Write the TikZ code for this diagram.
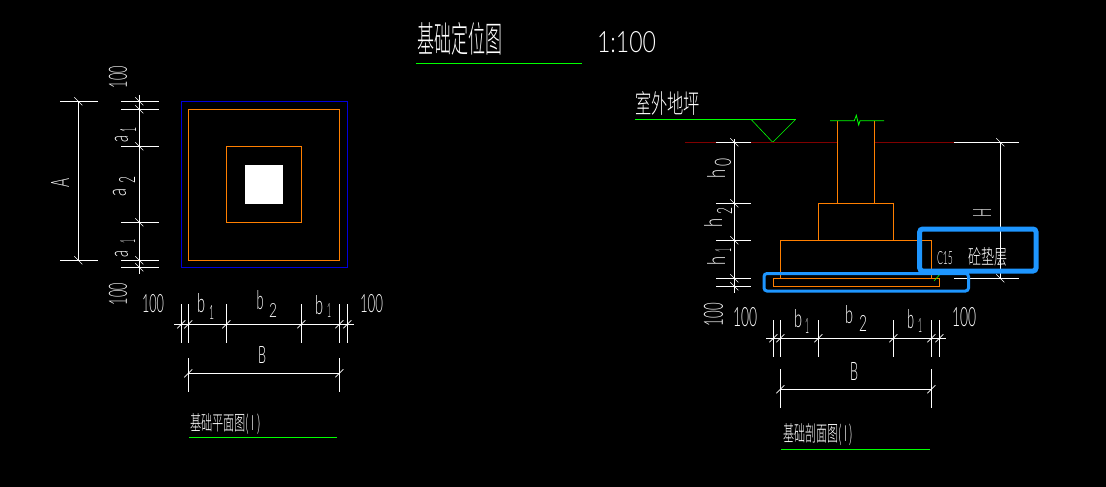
\documentclass[tikz,border=0pt]{standalone}
\usepackage{fontspec}
\setmainfont{Lato Light}
\newfontfamily\cjk{Noto Sans CJK SC Light}
\newcommand\lbl[6]{\node[lab] (#1) at (#2,#3) {\resizebox{#4pt}{#5pt}{#6}};}
\newcommand\lblr[6]{\node[lab,rotate=90] (#1) at (#2,#3) {\resizebox{#5pt}{#4pt}{#6}};}
\newcommand\htick[2]{\draw[tick] (#1-4,#2+4) -- (#1+4,#2-4);}
\newcommand\vtick[2]{\draw[tick] (#1-4,#2-4) -- (#1+4,#2+4);}
\tikzset{
  lab/.style={inner sep=0pt,outer sep=0pt,text=white},
  dimline/.style={draw=white,line width=0.8pt},
  tick/.style={draw=white,line width=0.6pt},
  ora/.style={draw=cadorange,line width=0.9pt},
  grn/.style={draw=cadgreen,line width=0.8pt},
  hl/.style={draw=hiblue,rounded corners=3pt}
}
\definecolor{cadorange}{RGB}{255,127,0}
\definecolor{cadgreen}{RGB}{0,255,0}
\definecolor{cadblue}{RGB}{0,0,220}
\definecolor{caddred}{RGB}{128,0,0}
\definecolor{hiblue}{RGB}{30,150,255}
\begin{document}
\begin{tikzpicture}[x=1pt,y=-1pt]
\fill[black] (0,0) rectangle (1106,487);
\useasboundingbox (0,0) rectangle (1106,487);
% title
\lbl{t1}{459.5}{39}{85}{30}{\cjk 基础定位图}
\lbl{t2}{626.5}{42.5}{59}{21}{1:100}
\draw[grn] (416,63.3) -- (581.7,63.3);
% ---- plan ----
\draw[draw=cadblue,line width=0.9pt] (181.3,101.3) rectangle (347.3,267.3);
\draw[ora] (188.3,109.3) rectangle (339.3,260.3);
\draw[ora] (226.3,146.3) rectangle (301.7,222.3);
\fill[white] (245,165) rectangle (283,204);
% A dim
\draw[dimline] (78.3,101.3) -- (78.3,260.3);
\foreach \y in {101.3,260.3} {\draw[dimline] (60,\y) -- (97.7,\y); \vtick{78.3}{\y}}
\lblr{A}{60}{182.5}{18}{9}{A}
% a dims
\draw[dimline] (139.3,95) -- (139.3,274.3);
\foreach \y in {101.3,109.3,146.3,222.3,260.3,267.3} {\draw[dimline] (121,\y) -- (158.7,\y); \vtick{139.3}{\y}}
\lblr{pt}{118}{77}{18}{22}{100}
\lblr{pb}{118}{294}{18}{22}{100}
\lblr{a1a}{121.5}{138.5}{13}{7}{a}
\lblr{a1b}{128}{129.5}{16}{5}{1}
\lblr{a2a}{119.5}{192}{13}{8}{a}
\lblr{a2b}{127}{179.5}{16}{7}{2}
\lblr{a3a}{121.5}{253.5}{13}{7}{a}
\lblr{a3b}{127.5}{241}{15}{4}{1}
% b dims
\draw[dimline] (174,324.3) -- (354,324.3);
\foreach \x in {181.3,188.3,226.3,301.3,339.3,347.3} {\draw[dimline] (\x,304) -- (\x,342.7); \htick{\x}{324.3}}
\lbl{pl}{153}{304}{22}{18}{100}
\lbl{pr}{371.5}{304}{23}{18}{100}
\lbl{b1a}{201}{303.5}{8}{19}{b}
\lbl{b1b}{211.5}{312}{5}{14}{1}
\lbl{b2a}{260}{300.5}{7}{19}{b}
\lbl{b2b}{273}{310}{8}{14}{2}
\lbl{b3a}{319}{305.5}{8}{19}{b}
\lbl{b3b}{329}{310}{4}{14}{1}
\draw[dimline] (188.3,373.3) -- (339.3,373.3);
\foreach \x in {188.3,339.3} {\draw[dimline] (\x,358) -- (\x,391.7); \htick{\x}{373.3}}
\lbl{B1}{262}{354.5}{8}{17}{B}
\lbl{c1}{225.5}{423.5}{71}{17}{\cjk 基础平面图( I )}
\draw[grn] (189,437.3) -- (337,437.3);
% ---- section ----
\lbl{g1}{667.5}{103}{65}{22}{\cjk 室外地坪}
\draw[grn] (635,119.3) -- (795.7,119.3);
\draw[draw=cadgreen,line width=0.6pt] (751,119.3) -- (772.7,142.3) -- (795.7,119.3);
\draw[draw=caddred,line width=0.9pt] (685,142.3) -- (837.3,142.3);
\draw[draw=caddred,line width=0.9pt] (874.3,142.3) -- (954,142.3);
% ground ext lines
\draw[dimline] (716,142.3) -- (751,142.3);
\draw[dimline] (954,142.3) -- (1019,142.3);
% column
\draw[ora] (837.3,120.7) -- (837.3,203.3);
\draw[ora] (874.3,120.7) -- (874.3,203.3);
\draw[grn] (830,120.7) -- (854.3,120.7) -- (856.3,115.3) -- (858.7,125) -- (860,120.7) -- (884,120.7);
\draw[ora] (818.3,203.3) rectangle (893.7,240.3);
\draw[ora] (780.3,240.3) -- (780.3,278.3);
\draw[ora] (931.7,240.3) -- (931.7,278.3);
\draw[ora] (780.3,240.3) -- (931.7,240.3);
\draw[ora] (773.3,278.3) rectangle (939.7,286.3);
% left dims
\draw[dimline] (734.3,139) -- (734.3,292.7);
\foreach \y in {142.3,203.3,240.3,278.3,286.3} {\vtick{734.3}{\y}}
\foreach \y in {203.3,240.3,278.3,286.3} {\draw[dimline] (716,\y) -- (751,\y);}
\lblr{h0a}{716}{174}{18}{9}{h}
\lblr{h0b}{723}{162}{16}{8}{0}
\lblr{h2a}{713}{222.5}{18}{9}{h}
\lblr{h2b}{724.5}{210.5}{15}{7}{2}
\lblr{h1a}{716}{261}{18}{9}{h}
\lblr{h1b}{723}{250}{16}{4}{1}
\lblr{p3}{713.5}{314.5}{19}{23}{100}
% right dim
\draw[dimline] (1000.3,142.3) -- (1000.3,278.3);
\draw[dimline] (954,278.3) -- (1019,278.3);
\vtick{1000.3}{142.3}\vtick{1000.3}{278.3}
\lblr{H}{982}{212.5}{18}{9}{H}
% highlight boxes
\draw[hl,line width=3pt] (764,273.5) rectangle (968.5,291);
\draw[hl,line width=5pt] (919.7,229) rectangle (1036,271);
\draw[draw=cadgreen,line width=0.6pt] (934,281) -- (939.3,275);
\lbl{c15}{945}{258.5}{16}{13}{C15}
\lbl{c2}{987.5}{256.5}{39}{17}{\cjk 砼垫层}
% b dims
\draw[dimline] (766,338.3) -- (946,338.3);
\foreach \x in {773.3,780.3,818.3,893.3,931.3,939.3} {\draw[dimline] (\x,320) -- (\x,356.7); \htick{\x}{338.3}}
\lbl{p4}{745}{317.5}{24}{19}{100}
\lbl{p5}{964}{317.5}{24}{19}{100}
\lbl{d1a}{798}{319}{8}{18}{b}
\lbl{d1b}{807}{325.5}{4}{15}{1}
\lbl{d2a}{849}{315}{8}{18}{b}
\lbl{d2b}{863}{323}{8}{16}{2}
\lbl{d3a}{910.5}{319.5}{7}{19}{b}
\lbl{d3b}{920}{325}{4}{14}{1}
\draw[dimline] (780.3,389.3) -- (931.3,389.3);
\foreach \x in {780.3,931.3} {\draw[dimline] (\x,369) -- (\x,407.7); \htick{\x}{389.3}}
\lbl{B2}{854}{371}{8}{18}{B}
\lbl{c3}{818}{435}{70}{18}{\cjk 基础剖面图( I )}
\draw[grn] (781,449.3) -- (930,449.3);
\end{tikzpicture}
\end{document}
